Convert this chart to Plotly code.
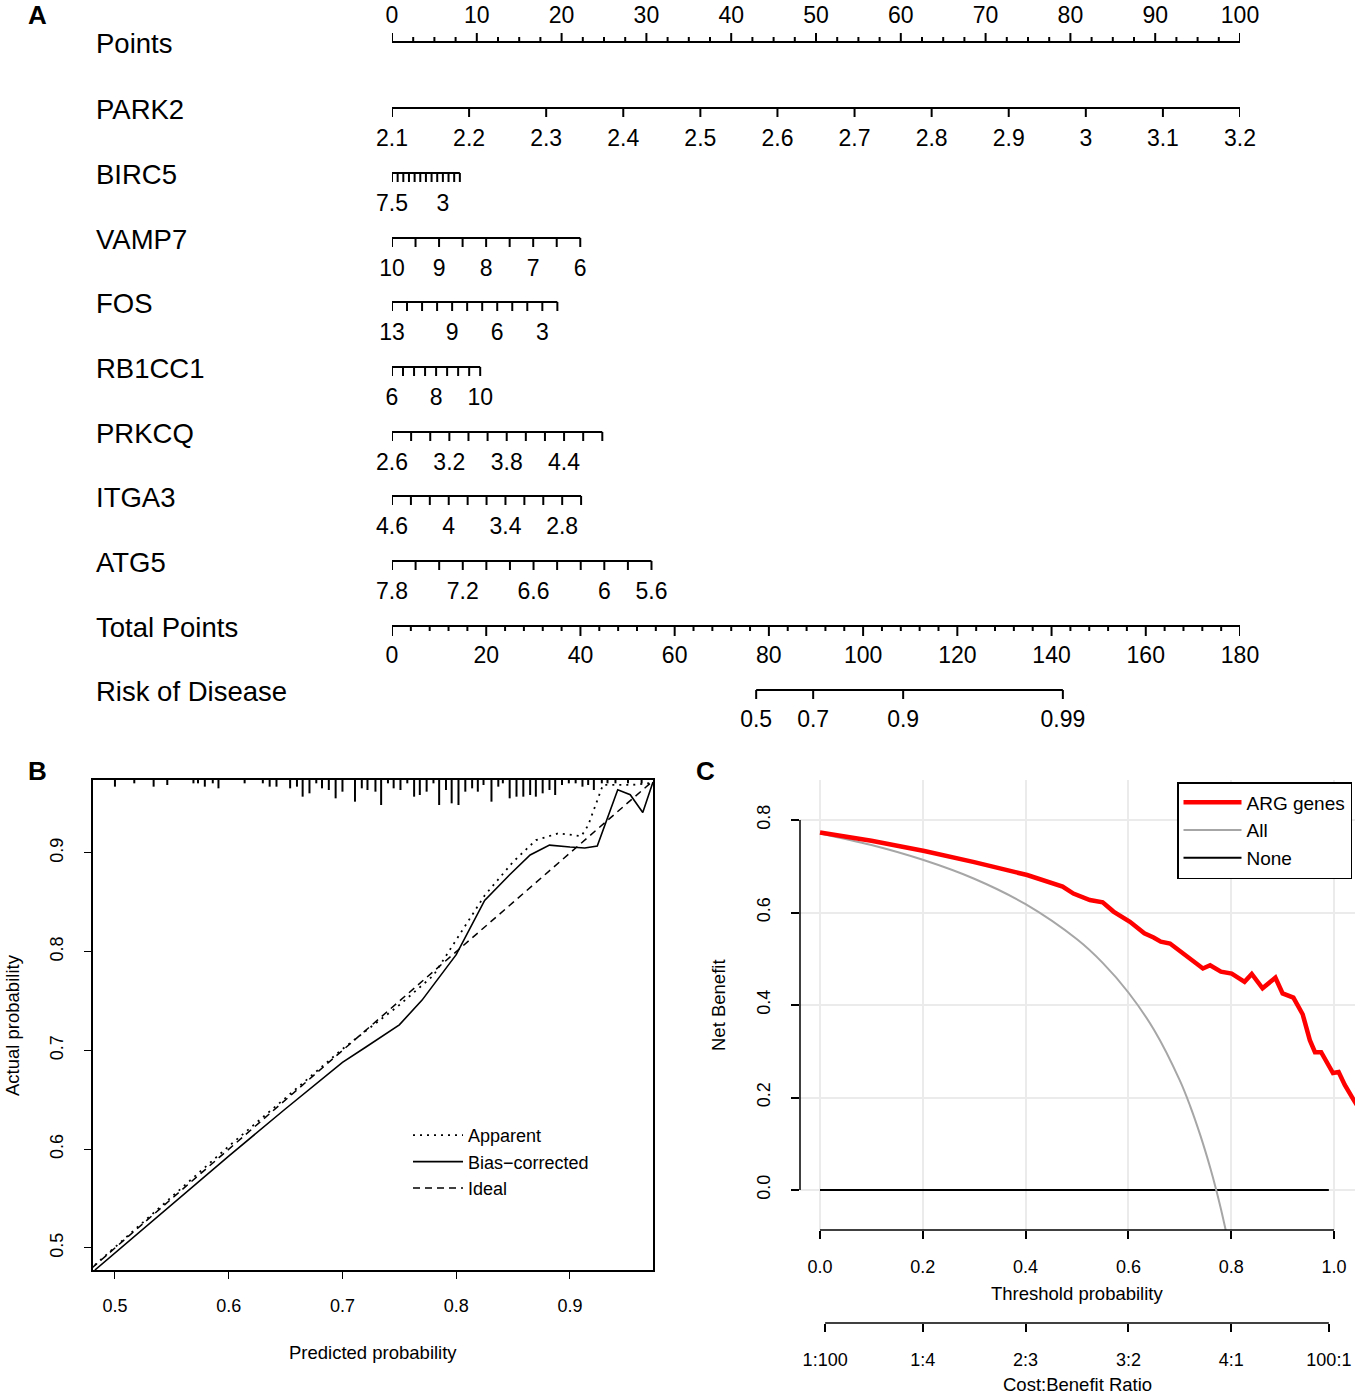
import plotly.graph_objects as go

W, H = 1358, 1395
FONT = "Liberation Sans, Arial, sans-serif"

# ---------------- Panel A: nomogram data ----------------
points_labels = [0, 10, 20, 30, 40, 50, 60, 70, 80, 90, 100]
points_minor_step = 2.5
points_max = 100

variables = ["PARK2", "BIRC5", "VAMP7", "FOS", "RB1CC1", "PRKCQ", "ITGA3", "ATG5"]

park2_ticks = [2.1, 2.2, 2.3, 2.4, 2.5, 2.6, 2.7, 2.8, 2.9, 3.0, 3.1, 3.2]
park2_labels = [2.1, 2.2, 2.3, 2.4, 2.5, 2.6, 2.7, 2.8, 2.9, 3.0, 3.1, 3.2]
birc5_ticks = [7.5, 7.0, 6.5, 6.0, 5.5, 5.0, 4.5, 4.0, 3.5, 3.0, 2.5, 2.0, 1.5]
birc5_labels = [7.5, 3]
vamp7_ticks = [10, 9.5, 9, 8.5, 8, 7.5, 7, 6.5, 6]
vamp7_labels = [10, 9, 8, 7, 6]
fos_ticks = [13, 12, 11, 10, 9, 8, 7, 6, 5, 4, 3, 2]
fos_labels = [13, 9, 6, 3]
rb1cc1_ticks = [6, 6.5, 7, 7.5, 8, 8.5, 9, 9.5, 10]
rb1cc1_labels = [6, 8, 10]
prkcq_ticks = [2.6, 2.8, 3.0, 3.2, 3.4, 3.6, 3.8, 4.0, 4.2, 4.4, 4.6, 4.8]
prkcq_labels = [2.6, 3.2, 3.8, 4.4]
itga3_ticks = [4.6, 4.4, 4.2, 4.0, 3.8, 3.6, 3.4, 3.2, 3.0, 2.8, 2.6]
itga3_labels = [4.6, 4.0, 3.4, 2.8]
atg5_ticks = [7.8, 7.6, 7.4, 7.2, 7.0, 6.8, 6.6, 6.4, 6.2, 6.0, 5.8, 5.6]
atg5_labels = [7.8, 7.2, 6.6, 6.0, 5.6]

# value at 0 points, value at end of scale, points at end of scale
var_value_at_zero = [2.1, 7.5, 10, 13, 6, 2.6, 4.6, 7.8]
var_value_at_end = [3.2, 1.5, 6, 2, 10, 4.8, 2.6, 5.6]
var_points_at_end = [100, 8.0, 22.2, 19.5, 10.4, 24.8, 22.3, 30.6]

total_points_labels = [0, 20, 40, 60, 80, 100, 120, 140, 160, 180]
total_points_minor_step = 4
total_points_max = 180

risk_labels = [0.5, 0.7, 0.9, 0.99]
risk_total_points = [77.3, 89.4, 108.5, 142.4]

# ---------------- Panel B: calibration data ----------------
apparent_p = [0.4824, 0.55, 0.60, 0.65, 0.70, 0.75, 0.78, 0.80, 0.825, 0.85, 0.87,
              0.89, 0.91, 0.916, 0.921, 0.929, 0.94, 0.955, 0.972]
apparent_a = [0.4828, 0.552, 0.603, 0.652, 0.7015, 0.746, 0.776, 0.812, 0.857, 0.891, 0.913,
              0.920, 0.917, 0.928, 0.944, 0.969, 0.969, 0.969, 0.971]
bias_p = [0.4824, 0.55, 0.60, 0.65, 0.70, 0.72, 0.75, 0.77, 0.79, 0.80, 0.825, 0.847,
          0.865, 0.882, 0.90, 0.913, 0.924, 0.942, 0.953, 0.964, 0.973]
bias_a = [0.4777, 0.5445, 0.593, 0.641, 0.688, 0.703, 0.726, 0.751, 0.782, 0.797, 0.852, 0.878,
          0.898, 0.908, 0.906, 0.905, 0.907, 0.964, 0.959, 0.941, 0.972]
ideal_p = [0.4, 1.0]
ideal_a = [0.4, 1.0]

rug_p = [0.500, 0.517, 0.534, 0.546, 0.569, 0.573, 0.579, 0.586, 0.591, 0.614,
         0.630, 0.636, 0.642, 0.654, 0.660, 0.665, 0.671, 0.677, 0.682, 0.688,
         0.694, 0.700, 0.711, 0.717, 0.722, 0.729, 0.734, 0.740, 0.745, 0.751,
         0.757, 0.763, 0.768, 0.774, 0.780, 0.785, 0.791, 0.796, 0.802, 0.808,
         0.814, 0.819, 0.824, 0.831, 0.837, 0.841, 0.847, 0.853, 0.859, 0.865,
         0.870, 0.876, 0.882, 0.887, 0.893, 0.899, 0.905, 0.911, 0.916, 0.921,
         0.928, 0.933, 0.940, 0.951, 0.963]
rug_n = [4, 2, 4, 3, 2, 2, 4, 2, 5, 2,
         2, 4, 4, 5, 4, 10, 8, 2, 5, 6,
         11, 7, 13, 5, 6, 7, 15, 2, 5, 6,
         2, 10, 9, 7, 2, 15, 6, 14, 15, 7,
         5, 7, 3, 13, 4, 2, 11, 10, 10, 9,
         10, 8, 6, 9, 3, 2, 2, 4, 3, 6,
         2, 2, 2, 2, 2]
b_ticks = [0.5, 0.6, 0.7, 0.8, 0.9]

# ---------------- Panel C: decision curve data ----------------
arg_t = [0.0, 0.1, 0.203, 0.3, 0.403, 0.472, 0.493, 0.525, 0.550, 0.571, 0.603, 0.631,
         0.649, 0.663, 0.681, 0.706, 0.727, 0.745, 0.759, 0.780, 0.801, 0.826, 0.840,
         0.861, 0.886, 0.900, 0.921, 0.939, 0.953, 0.963, 0.975, 0.986, 0.998, 1.009,
         1.021, 1.037, 1.045]
arg_nb = [0.773, 0.755, 0.733, 0.709, 0.681, 0.656, 0.641, 0.627, 0.622, 0.602, 0.580, 0.555,
          0.546, 0.537, 0.533, 0.512, 0.494, 0.479, 0.486, 0.472, 0.468, 0.450, 0.467,
          0.436, 0.459, 0.425, 0.416, 0.380, 0.324, 0.298, 0.298, 0.275, 0.253, 0.255,
          0.227, 0.197, 0.183]
all_t = [0.0, 0.1, 0.2, 0.3, 0.4, 0.5, 0.55, 0.6, 0.65, 0.7, 0.72, 0.74, 0.76, 0.77, 0.78, 0.79]
all_nb = [0.771, 0.746, 0.714, 0.673, 0.618, 0.542, 0.491, 0.427, 0.346, 0.237, 0.182,
          0.118, 0.045, 0.004, -0.041, -0.090]
none_t = [0.0, 0.99]
none_nb = [0.0, 0.0]
c_xticks = [0.0, 0.2, 0.4, 0.6, 0.8, 1.0]
c_yticks = [0.0, 0.2, 0.4, 0.6, 0.8]
cb_ticks = [0.01, 0.2, 0.4, 0.6, 0.8, 0.99]
cb_labels = ["1:100", "1:4", "2:3", "3:2", "4:1", "100:1"]


def px_x(x):
    return x / W


def px_y(y):
    return 1 - y / H


fig = go.Figure()
LW = 2.0
TICK_FONT = dict(family=FONT, size=23, color="black")

# ---------- Panel A rows (y axis in pixel-like units) ----------
row_y = {"Points": 42, "PARK2": 108, "BIRC5": 173, "VAMP7": 238, "FOS": 302,
         "RB1CC1": 367, "PRKCQ": 432, "ITGA3": 496, "ATG5": 561,
         "Total Points": 626, "Risk of Disease": 690}
TL = 9        # tick length down
LABEL_OFF = 32


def add_segments(xs_pairs, ys_pairs):
    X, Y = [], []
    for (xa, xb), (ya, yb) in zip(xs_pairs, ys_pairs):
        X += [xa, xb, None]
        Y += [ya, yb, None]
    fig.add_trace(go.Scatter(x=X, y=Y, mode="lines", xaxis="x", yaxis="y",
                             line=dict(color="black", width=LW), hoverinfo="skip",
                             showlegend=False))


def add_labels(xs, y, texts):
    fig.add_trace(go.Scatter(x=xs, y=[y] * len(xs), mode="text", text=texts,
                             textfont=TICK_FONT, textposition="middle center",
                             xaxis="x", yaxis="y", cliponaxis=False,
                             hoverinfo="skip", showlegend=False))


# Points axis (ticks upward, labels above)
yP = row_y["Points"]
n_minor = int(points_max / points_minor_step)
minor = [i * points_minor_step for i in range(n_minor + 1)]
pairs_x = [(0, points_max)]
pairs_y = [(yP, yP)]
for m in minor:
    major = m in points_labels
    pairs_x.append((m, m))
    pairs_y.append((yP, yP - (9 if major else 5)))
add_segments(pairs_x, pairs_y)
add_labels(points_labels, yP - 25, [str(v) for v in points_labels])

# Variable rows
all_ticks = [park2_ticks, birc5_ticks, vamp7_ticks, fos_ticks, rb1cc1_ticks,
             prkcq_ticks, itga3_ticks, atg5_ticks]
all_labels = [park2_labels, birc5_labels, vamp7_labels, fos_labels, rb1cc1_labels,
              prkcq_labels, itga3_labels, atg5_labels]
for i, name in enumerate(variables):
    v0, v1, p1 = var_value_at_zero[i], var_value_at_end[i], var_points_at_end[i]

    def to_pts(v):
        return (v - v0) / (v1 - v0) * p1

    yr = row_y[name]
    tk = all_ticks[i]
    px_ = [to_pts(v) for v in tk]
    pairs_x = [(min(px_), max(px_))]
    pairs_y = [(yr, yr)]
    for p in px_:
        pairs_x.append((p, p))
        pairs_y.append((yr, yr + TL))
    add_segments(pairs_x, pairs_y)
    add_labels([to_pts(v) for v in all_labels[i]], yr + LABEL_OFF,
               [f"{v:g}" for v in all_labels[i]])

# Total points
scale_tp = points_max / total_points_max
yT = row_y["Total Points"]
n_tminor = int(total_points_max / total_points_minor_step)
pairs_x = [(0, total_points_max * scale_tp)]
pairs_y = [(yT, yT)]
for i in range(n_tminor + 1):
    v = i * total_points_minor_step
    major = v in total_points_labels
    pairs_x.append((v * scale_tp, v * scale_tp))
    pairs_y.append((yT, yT + (10 if major else 5)))
add_segments(pairs_x, pairs_y)
add_labels([v * scale_tp for v in total_points_labels], yT + 31,
           [str(v) for v in total_points_labels])

# Risk of disease
yR = row_y["Risk of Disease"]
rx = [v * scale_tp for v in risk_total_points]
pairs_x = [(min(rx), max(rx))] + [(x, x) for x in rx]
pairs_y = [(yR, yR)] + [(yR, yR + TL) for _ in rx]
add_segments(pairs_x, pairs_y)
add_labels(rx, yR + 31, [f"{v:g}" for v in risk_labels])

# ---------- Panel B ----------
B_TOP = 0.9739
RUG_UNIT = (5 / 3) / 987.5
RX, RY = [], []
for p, n in zip(rug_p, rug_n):
    RX += [p, p, None]
    RY += [B_TOP, B_TOP - n * RUG_UNIT, None]
fig.add_trace(go.Scatter(x=RX, y=RY, mode="lines", xaxis="x2", yaxis="y2",
                         line=dict(color="black", width=2), hoverinfo="skip",
                         showlegend=False))
fig.add_trace(go.Scatter(x=ideal_p, y=ideal_a, mode="lines", xaxis="x2", yaxis="y2",
                         name="Ideal", legend="legend", legendrank=3,
                         line=dict(color="black", width=1.5, dash="7px,5px")))
fig.add_trace(go.Scatter(x=apparent_p, y=apparent_a, mode="lines", xaxis="x2", yaxis="y2",
                         name="Apparent", legend="legend", legendrank=1,
                         line=dict(color="black", width=1.8, dash="2px,5px")))
fig.add_trace(go.Scatter(x=bias_p, y=bias_a, mode="lines", xaxis="x2", yaxis="y2",
                         name="Bias\u2212corrected", legend="legend", legendrank=2,
                         line=dict(color="black", width=1.6)))

# ---------- Panel C ----------
fig.add_trace(go.Scatter(x=none_t, y=none_nb, mode="lines", xaxis="x3", yaxis="y3",
                         name="None", legend="legend2", legendrank=3,
                         line=dict(color="black", width=1.8)))
fig.add_trace(go.Scatter(x=all_t, y=all_nb, mode="lines", xaxis="x3", yaxis="y3",
                         name="All", legend="legend2", legendrank=2,
                         line=dict(color="#a6a6a6", width=2, shape="spline")))
fig.add_trace(go.Scatter(x=arg_t, y=arg_nb, mode="lines", xaxis="x3", yaxis="y3",
                         name="ARG genes", legend="legend2", legendrank=1,
                         line=dict(color="#ff0000", width=4.5)))
# helper (invisible) trace so the cost:benefit axis is rendered
fig.add_trace(go.Scatter(x=cb_ticks, y=[None] * len(cb_ticks), mode="lines",
                         xaxis="x4", yaxis="y3", showlegend=False, hoverinfo="skip"))

TF = dict(family=FONT, size=18, color="black")
c_xrange = [(800 - 820) / 514, (1355 - 820) / 514]
c_yrange = [(1190 - 1230) / 462.5, (1190 - 780) / 462.5]

fig.update_layout(
    width=W, height=H, autosize=False,
    margin=dict(l=0, r=0, t=0, b=0),
    paper_bgcolor="white", plot_bgcolor="white",
    template="none",
    font=dict(family=FONT, color="black"),
    xaxis=dict(domain=[px_x(392), px_x(1240)], range=[0, 100], visible=False,
               anchor="y", fixedrange=True),
    yaxis=dict(domain=[px_y(740), 1], range=[740, 0], visible=False,
               anchor="x", fixedrange=True),
    xaxis2=dict(domain=[px_x(93), px_x(653)], range=[0.4807, 0.9730], anchor="y2",
                tickvals=b_ticks, ticktext=[f"{v:g}" for v in b_ticks],
                ticks="outside", ticklen=7, tickwidth=1.3, tickcolor="black",
                showline=True, mirror=True, linecolor="black", linewidth=1.5,
                showgrid=False, zeroline=False, tickfont=TF, ticklabelstandoff=12),
    yaxis2=dict(domain=[px_y(1270), px_y(780)], range=[0.4777, B_TOP], anchor="x2",
                tickvals=b_ticks, ticktext=[f"{v:g}" for v in b_ticks], tickangle=-90,
                ticks="outside", ticklen=7, tickwidth=1.3, tickcolor="black",
                showline=True, mirror=True, linecolor="black", linewidth=1.5,
                showgrid=False, zeroline=False, tickfont=TF, ticklabelstandoff=14),
    xaxis3=dict(domain=[px_x(800), px_x(1355)], range=c_xrange, anchor="y3",
                tickvals=c_xticks, ticktext=[f"{v:.1f}" for v in c_xticks],
                ticks="outside", ticklen=8, tickwidth=1.5, tickcolor="black",
                showline=False, showgrid=True, gridcolor="#ebebeb", gridwidth=1.5,
                zeroline=False, tickfont=TF, ticklabelstandoff=12),
    yaxis3=dict(domain=[px_y(1230), px_y(780)], range=c_yrange, anchor="x3",
                tickvals=c_yticks, ticktext=[f"{v:.1f}" for v in c_yticks], tickangle=-90,
                ticks="outside", ticklen=8, tickwidth=1.5, tickcolor="black",
                showline=False, showgrid=True, gridcolor="#ebebeb", gridwidth=1.5,
                zeroline=False, tickfont=TF, ticklabelstandoff=14),
    xaxis4=dict(overlaying="x3", anchor="free", position=px_y(1323), side="bottom",
                range=c_xrange, tickvals=cb_ticks, ticktext=cb_labels,
                ticks="outside", ticklen=8, tickwidth=1.5, tickcolor="black",
                showline=False, showgrid=False, zeroline=False, tickfont=TF,
                ticklabelstandoff=12),
    legend=dict(x=px_x(408), y=px_y(1117), xanchor="left", yanchor="top",
                bgcolor="rgba(0,0,0,0)", borderwidth=0, itemwidth=50,
                font=dict(family=FONT, size=18, color="black"), traceorder="normal"),
    legend2=dict(x=px_x(1177), y=px_y(782), xanchor="left", yanchor="top",
                 bgcolor="white", bordercolor="black", borderwidth=1.5, itemwidth=58,
                 font=dict(family=FONT, size=19, color="black"), traceorder="normal"),
    showlegend=True,
)

# R-style axis lines for panel C (span only first..last tick)
fig.add_shape(type="line", xref="x3", yref="paper", x0=min(c_xticks), x1=max(c_xticks),
              y0=px_y(1230), y1=px_y(1230), line=dict(color="black", width=1.5))
fig.add_shape(type="line", xref="paper", yref="y3", x0=px_x(800), x1=px_x(800),
              y0=min(c_yticks), y1=max(c_yticks), line=dict(color="black", width=1.5))
fig.add_shape(type="line", xref="x4", yref="paper", x0=min(cb_ticks), x1=max(cb_ticks),
              y0=px_y(1323), y1=px_y(1323), line=dict(color="black", width=1.5))

# Row names of nomogram
NAME_FONT = dict(family=FONT, size=27.5, color="black")
for name, yv in row_y.items():
    fig.add_annotation(x=px_x(94), y=yv + 1, xref="paper", yref="y", text=name,
                       showarrow=False, xanchor="left", yanchor="middle", font=NAME_FONT)

# Titles and panel letters
def ann(text, x, y, size=18.5, angle=0, bold=False):
    fig.add_annotation(x=px_x(x), y=px_y(y), xref="paper", yref="paper",
                       text=f"<b>{text}</b>" if bold else text, showarrow=False,
                       xanchor="center", yanchor="middle", textangle=angle,
                       font=dict(family=FONT, size=size, color="black"))


ann("Predicted probability", 373, 1352)
ann("Actual probability", 12, 1025, angle=-90)
ann("Threshold probability", 1077, 1293)
ann("Cost:Benefit Ratio", 1077, 1384)
ann("Net Benefit", 718, 1005, angle=-90)
ann("A", 37, 15, size=26, bold=True)
ann("B", 37, 771, size=26, bold=True)
ann("C", 705, 771, size=26, bold=True)

fig.write_html("out.html",
               config={"displayModeBar": False},
               post_script="document.body.style.margin='0';document.body.style.padding='0';"
                           "document.documentElement.style.overflow='hidden';")
